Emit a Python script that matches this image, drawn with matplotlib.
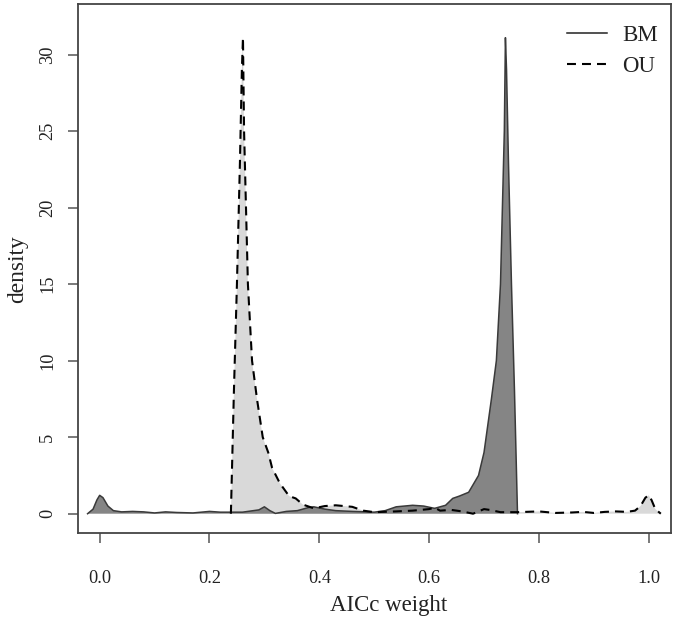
import matplotlib
matplotlib.use("Agg")
import matplotlib.pyplot as plt
from matplotlib.lines import Line2D

# ---- data ----
bm_x = [-0.022, -0.012, -0.005, 0.0, 0.006, 0.015, 0.025, 0.04, 0.06, 0.08, 0.10, 0.12,
        0.14, 0.17, 0.20, 0.22, 0.26, 0.29, 0.30, 0.31, 0.32, 0.34, 0.36, 0.38, 0.39,
        0.41, 0.43, 0.46, 0.50, 0.52, 0.54, 0.57, 0.59, 0.61, 0.63, 0.643, 0.655, 0.672,
        0.69, 0.70, 0.7135, 0.7225, 0.730, 0.7335, 0.737, 0.739, 0.741, 0.7445, 0.750,
        0.7555, 0.761]
bm_y = [0.0, 0.3, 0.9, 1.2, 1.05, 0.5, 0.2, 0.12, 0.15, 0.12, 0.05, 0.12,
        0.08, 0.05, 0.15, 0.1, 0.1, 0.25, 0.45, 0.2, 0.02, 0.15, 0.2, 0.4, 0.45,
        0.3, 0.2, 0.15, 0.1, 0.2, 0.45, 0.55, 0.5, 0.35, 0.55, 1.0, 1.15, 1.4,
        2.5, 4.0, 7.5, 10.0, 15.0, 20.0, 25.0, 31.1, 29.0, 23.0, 15.0,
        8.0, 0.0]

ou_x = [0.239, 0.2445, 0.250, 0.2555, 0.259, 0.261, 0.263, 0.2665, 0.270, 0.2775, 0.2865,
        0.297, 0.307, 0.314, 0.328, 0.345, 0.357, 0.37, 0.39, 0.41, 0.43, 0.46, 0.48,
        0.50, 0.54, 0.57, 0.60, 0.61, 0.62, 0.64, 0.66, 0.68, 0.70, 0.71, 0.73, 0.76,
        0.80, 0.83, 0.86, 0.88, 0.90, 0.92, 0.94, 0.96, 0.975, 0.985, 0.994, 1.0, 1.005,
        1.012, 1.022]
ou_y = [0.0, 8.0, 15.0, 23.0, 29.0, 31.1, 25.0, 20.0, 15.0, 10.0, 7.5,
        5.0, 4.0, 3.0, 2.0, 1.15, 1.0, 0.6, 0.35, 0.5, 0.55, 0.45, 0.2,
        0.1, 0.15, 0.2, 0.3, 0.4, 0.2, 0.25, 0.15, 0.0, 0.3, 0.25, 0.1, 0.1,
        0.15, 0.05, 0.08, 0.12, 0.05, 0.12, 0.15, 0.12, 0.2, 0.5, 1.05, 1.2, 0.9,
        0.3, 0.0]

x_ticks = [0.0, 0.2, 0.4, 0.6, 0.8, 1.0]
x_tick_labels = ["0.0", "0.2", "0.4", "0.6", "0.8", "1.0"]
y_ticks = [0, 5, 10, 15, 20, 25, 30]
series_names = ["BM", "OU"]

# ---- figure ----
plt.rcParams['font.family'] = ['Liberation Serif', 'DejaVu Serif']
W, H = 675, 622
fig = plt.figure(figsize=(W / 100, H / 100), dpi=100)
ax = fig.add_axes([77.7 / W, 1 - 533.3 / H, (670.7 - 77.7) / W, (533.3 - 4.3) / H])

dash = (0, (4.3, 2.9))
ax.fill(ou_x, ou_y, color="#d9d9d9", lw=0, zorder=1)
ax.fill(bm_x, bm_y, color="#858585", lw=0, zorder=2)
ax.plot(bm_x, bm_y, color="#3a3a3a", lw=1.1, zorder=3)
ax.plot(ou_x, ou_y, color="black", lw=1.5, linestyle=dash, zorder=4)

ax.set_xlim(-0.04, 1.04)
ax.set_ylim(-1.28, 33.28)
ax.set_xticks(x_ticks)
ax.set_xticklabels(x_tick_labels)
ax.set_yticks(y_ticks)
ax.set_yticklabels([str(v) for v in y_ticks], rotation=90, va="center")

for s in ax.spines.values():
    s.set_color("#444444")
    s.set_linewidth(1.3)
ax.tick_params(axis="both", length=7.5, width=1.1, color="#555555",
               labelsize=13.2, labelcolor="#222222")
ax.tick_params(axis="x", pad=19)
ax.tick_params(axis="y", pad=8)

ax.set_xlabel("AICc weight", fontsize=16.5, color="#222222")
ax.xaxis.set_label_coords((389 - 77.7) / 593, (533.3 - 605) / 529)
ax.xaxis.label.set_va("center")
ax.set_ylabel("density", fontsize=16.8, color="#222222")
ax.yaxis.set_label_coords((18 - 77.7) / 593, 0.5)
ax.yaxis.label.set_va("center")

handles = [Line2D([], [], color="#222222", lw=1.1),
           Line2D([], [], color="black", lw=1.5, linestyle=dash)]
ax.legend(handles, series_names, loc="upper left", frameon=False, fontsize=16.5,
          handlelength=1.75, handletextpad=0.65, borderpad=0, borderaxespad=0,
          labelspacing=0.45, bbox_to_anchor=(567 / W, 1 - 25 / H),
          bbox_transform=fig.transFigure, labelcolor="#222222")

fig.savefig("out.png", dpi=100)
